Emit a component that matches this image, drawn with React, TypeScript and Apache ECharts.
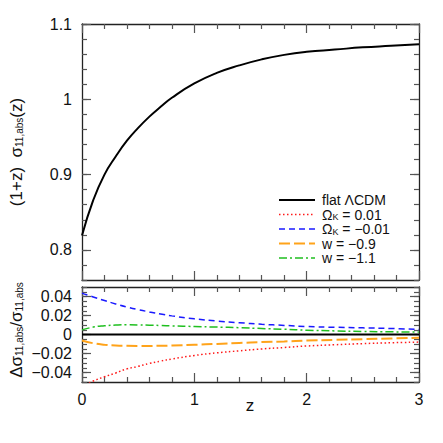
import React, { useEffect, useRef } from "react";
import * as echarts from "echarts";

const zValues = [0, 0.1, 0.2, 0.3, 0.4, 0.5, 0.6, 0.7, 0.8, 1.0, 1.2, 1.4, 1.6, 1.8, 2.0, 2.25, 2.5, 2.75, 3.0];
const sigmaFlat = [0.819, 0.866, 0.9, 0.924, 0.945, 0.962, 0.977, 0.99, 1.002, 1.021, 1.035, 1.045, 1.053, 1.059, 1.063, 1.066, 1.069, 1.071, 1.073];
const dOmegaKPos = [-0.055, -0.049, -0.0445, -0.0405, -0.0362, -0.0335, -0.0305, -0.028, -0.0258, -0.0221, -0.0193, -0.0172, -0.0152, -0.0137, -0.0121, -0.0108, -0.0096, -0.0087, -0.008];
const dOmegaKNeg = [0.0436, 0.0395, 0.0358, 0.0322, 0.029, 0.0262, 0.0238, 0.0216, 0.0196, 0.0165, 0.0142, 0.0124, 0.0108, 0.0096, 0.0084, 0.0076, 0.007, 0.0063, 0.0053];
const dW09 = [-0.0063, -0.0092, -0.0108, -0.0116, -0.0119, -0.012, -0.012, -0.0119, -0.0116, -0.0108, -0.0099, -0.0089, -0.008, -0.0073, -0.0064, -0.0056, -0.0049, -0.0042, -0.0035];
const dW11 = [0.0049, 0.0078, 0.0092, 0.0099, 0.0102, 0.0101, 0.0098, 0.0095, 0.0091, 0.0084, 0.0078, 0.0072, 0.0063, 0.0055, 0.0045, 0.0038, 0.0032, 0.0028, 0.0025];
const dFlat = zValues.map(() => 0);

const topTicks = [0.8, 0.9, 1.0, 1.1];
const bottomTicks = [-0.04, -0.02, 0, 0.02, 0.04];
const legendNames = ["flat ΛCDM", "Ω_K = 0.01", "Ω_K = −0.01", "w = −0.9", "w = −1.1"];

const FONT = "Liberation Sans";
const AXIS_COLOR = "#222";
const TICK_COLOR = "#555";

const STYLES = [
  { color: "#000", width: 2, dash: null as number[] | null },
  { color: "#ff1a1a", width: 1.5, dash: [1.5, 2.5] },
  { color: "#1a1aff", width: 1.5, dash: [6, 4] },
  { color: "#ffa31a", width: 2, dash: [11, 4] },
  { color: "#1fbf1f", width: 1.5, dash: [8, 3, 2, 3] },
];

const pairs = (ys: number[]) => zValues.map((z, i) => [z, ys[i]]);

function xAxis(gridIndex: number, position: "bottom" | "top", showLabels: boolean) {
  return {
    type: "value",
    gridIndex,
    position,
    min: 0,
    max: 3,
    interval: 1,
    axisLine: { show: true, onZero: false, lineStyle: { color: AXIS_COLOR, width: 1.3 } },
    axisTick: { show: true, inside: true, length: 9, lineStyle: { color: TICK_COLOR, width: 1.2 } },
    minorTick: { show: true, splitNumber: 5, length: 5, lineStyle: { color: TICK_COLOR, width: 1.2 } },
    axisLabel: { show: showLabels, margin: 9, color: "#111", fontFamily: FONT, fontSize: 16 },
    splitLine: { show: false },
    minorSplitLine: { show: false },
  };
}

function yMajor(gridIndex: number, position: "left" | "right", min: number, max: number, ticks: number[], showLabels: boolean) {
  return {
    type: "value",
    gridIndex,
    position,
    min,
    max,
    axisLine: { show: true, onZero: false, lineStyle: { color: AXIS_COLOR, width: 1.3 } },
    axisTick: { show: true, inside: true, length: 9, customValues: ticks, lineStyle: { color: TICK_COLOR, width: 1.2 } },
    axisLabel: {
      show: showLabels,
      customValues: ticks,
      margin: 10,
      color: "#111",
      fontFamily: FONT,
      fontSize: 16,
      formatter: (v: number) => String(parseFloat(v.toFixed(3))).replace("-", "−"),
    },
    splitLine: { show: false },
  };
}

function yMinor(gridIndex: number, position: "left" | "right", min: number, max: number, interval: number) {
  return {
    type: "value",
    gridIndex,
    position,
    min,
    max,
    interval,
    axisLine: { show: false, onZero: false },
    axisTick: { show: true, inside: true, length: 5, lineStyle: { color: TICK_COLOR, width: 1.2 } },
    axisLabel: { show: false },
    splitLine: { show: false },
  };
}

function lineSeries(name: string, idx: number, ys: number[], xAxisIndex: number, yAxisIndex: number) {
  const s = STYLES[idx];
  return {
    name,
    type: "line",
    xAxisIndex,
    yAxisIndex,
    data: pairs(ys),
    smooth: true,
    symbol: "none",
    clip: true,
    lineStyle: { color: s.color, width: s.width, type: s.dash ? s.dash : "solid" },
    itemStyle: { color: s.color },
  };
}

export default function App() {
  const ref = useRef<HTMLDivElement>(null);
  useEffect(() => {
    if (!ref.current) return;
    const chart = echarts.init(ref.current, undefined, { renderer: "svg" });
    const labelRich = {
      t: { fontFamily: FONT, fontSize: 17, fill: "#111" },
      sub: { fontFamily: FONT, fontSize: 10, fill: "#111", verticalAlign: "bottom", padding: [7, 0, 0, 0] },
    };
    const legendRich = {
      t: { fontFamily: FONT, fontSize: 14, fill: "#111" },
      sub: { fontFamily: FONT, fontSize: 9, fill: "#111", verticalAlign: "bottom", padding: [5, 0, 0, 0] },
    };
    const legendTop = 200;
    const legendStep = 14.5;
    const legendGraphics: any[] = [];
    legendNames.forEach((name, i) => {
      const s = STYLES[i];
      const y = legendTop + i * legendStep;
      legendGraphics.push({
        type: "line",
        shape: { x1: 279, y1: y, x2: 315, y2: y },
        style: { stroke: s.color, lineWidth: s.width, lineDash: s.dash || undefined },
      });
      const text = name.startsWith("Ω_K") ? "{t|Ω}{sub|K}{t|" + name.slice(3) + "}" : "{t|" + name + "}";
      legendGraphics.push({
        type: "text",
        x: 322,
        y,
        style: { text, verticalAlign: "middle", align: "left", rich: legendRich },
      });
    });

    chart.setOption({
      animation: false,
      backgroundColor: "#fff",
      grid: [
        { left: 82, top: 24, width: 337, height: 256 },
        { left: 82, top: 287, width: 337, height: 95 },
      ],
      xAxis: [
        xAxis(0, "bottom", false),
        xAxis(0, "top", false),
        xAxis(1, "bottom", true),
        xAxis(1, "top", false),
      ],
      yAxis: [
        yMajor(0, "left", 0.76, 1.1, topTicks, true),
        yMinor(0, "left", 0.76, 1.1, 0.02),
        yMajor(0, "right", 0.76, 1.1, topTicks, false),
        yMinor(0, "right", 0.76, 1.1, 0.02),
        yMajor(1, "left", -0.05, 0.05, bottomTicks, true),
        yMinor(1, "left", -0.05, 0.05, 0.005),
        yMajor(1, "right", -0.05, 0.05, bottomTicks, false),
        yMinor(1, "right", -0.05, 0.05, 0.005),
      ],
      series: [
        lineSeries(legendNames[0], 0, sigmaFlat, 0, 0),
        { ...lineSeries("flat ΛCDM (reference)", 0, dFlat, 2, 4), smooth: false },
        lineSeries(legendNames[1], 1, dOmegaKPos, 2, 4),
        lineSeries(legendNames[2], 2, dOmegaKNeg, 2, 4),
        lineSeries(legendNames[3], 3, dW09, 2, 4),
        lineSeries(legendNames[4], 4, dW11, 2, 4),
      ],
      graphic: [
        ...legendGraphics,
        {
          type: "text",
          x: 16,
          y: 152,
          rotation: Math.PI / 2,
          style: { text: "{t|(1+z)  σ}{sub|11,abs}{t|(z)}", align: "center", verticalAlign: "middle", rich: labelRich },
        },
        {
          type: "text",
          x: 16,
          y: 330,
          rotation: Math.PI / 2,
          style: { text: "{t|Δσ}{sub|11,abs}{t|/σ}{sub|11,abs}", align: "center", verticalAlign: "middle", rich: labelRich },
        },
        {
          type: "text",
          x: 250,
          y: 405,
          style: { text: "z", align: "center", verticalAlign: "middle", fontFamily: FONT, fontSize: 17, fill: "#111" },
        },
      ],
    });
    return () => chart.dispose();
  }, []);
  return <div ref={ref} style={{ width: 443, height: 443, position: "absolute", left: 0, top: 0 }} />;
}
